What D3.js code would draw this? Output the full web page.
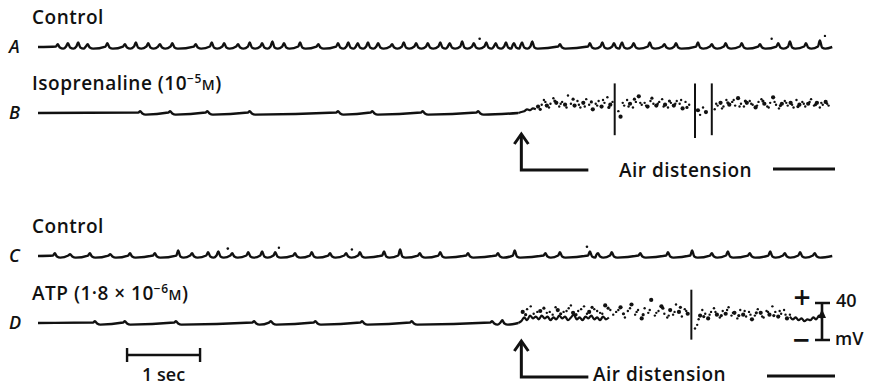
<!DOCTYPE html>
<html>
<head>
<meta charset="utf-8">
<script src="https://cdn.jsdelivr.net/npm/d3@7"></script>
<style>
  body { margin: 0; background: #fff; }
  svg text { font-family: "Open Sans", Lato, sans-serif; font-weight: 600; fill: #111; }
</style>
</head>
<body>
<figure id="trace" style="margin:0"></figure>
<script>
// trace letters and titles
const traceNames = ["A", "B", "C", "D"];
const traceTitles = ["Control", "Isoprenaline (10", "Control", "ATP (1·8 × 10"];
const titleExponents = [null, "−5", null, "−6"];

// time of air distension onset (s) and end of record (s)
const onset = 6.58;
const recordEnd = 10.88;

// A: control, spikes [time s, height mV]
const spikesA = [[0.27,3],[0.41,4],[0.55,5],[0.68,3],[0.95,4],[1.19,3],[1.34,5],[1.51,4],[1.67,3],[1.84,4],
  [2.16,3],[2.38,5],[2.55,4],[2.74,3],[2.90,5],[3.07,4],[3.21,6],[3.37,4],[3.59,5],[3.84,3],[4.11,4],[4.25,5],
  [4.38,4],[4.52,5],[4.66,4],[4.85,3],[5.01,5],[5.18,4],[5.34,4],[5.51,5],[5.64,4],[5.81,6],[5.97,4],[6.14,5],
  [6.27,4],[6.41,5],[6.52,4],[6.63,5],[6.77,6],[7.15,3],[7.56,4],[7.73,5],[7.89,4],[8.00,5],[8.16,4],[8.38,5],
  [8.58,3],[8.74,4],[9.04,5],[9.23,3],[9.42,4],[9.64,4],[9.89,3],[10.14,4],[10.30,6],[10.52,4],[10.71,7]];
const specksA = [[6.05,9],[10.05,9],[10.78,12]];

// B: isoprenaline, small bumps before onset, scattered points after
const bumpsB = [[1.40,2],[1.81,2],[2.32,2],[2.90,2],[4.11,2],[4.58,2],[5.27,2],[6.03,2]];
const riseB = [[6.58,0],[6.62,1],[6.66,2],[6.70,4],[6.74,3],[6.78,5],[6.82,4]];
const dotsB = [[6.85,7],[6.90,9],[6.93,14],[6.97,8],[7.02,10],[7.06,16],[7.10,11],[7.14,7],[7.18,12],[7.22,9],
  [7.26,19],[7.30,10],[7.35,8],[7.39,13],[7.43,6],[7.47,11],[7.51,15],[7.55,9],[7.60,4],[7.64,10],[7.68,13],
  [7.72,7],[7.76,11],[7.80,17],[7.84,9],[7.87,12],[7.95,2],[7.98,-4],[8.03,8],[8.07,14],[8.11,10],[8.15,6],
  [8.19,12],[8.23,18],[8.27,9],[8.31,11],[8.35,7],[8.39,13],[8.43,10],[8.47,8],[8.51,12],[8.55,15],[8.59,9],
  [8.63,6],[8.67,11],[8.71,8],[8.75,13],[8.79,10],[8.83,5],[8.87,12],[8.92,9],[9.04,3],[9.07,-2],[9.11,6],
  [9.15,1],[9.27,4],[9.31,8],[9.35,11],[9.39,7],[9.43,14],[9.47,9],[9.51,12],[9.55,8],[9.59,16],[9.63,10],
  [9.67,7],[9.71,11],[9.75,13],[9.79,9],[9.83,6],[9.87,12],[9.91,15],[9.95,10],[9.99,7],[10.03,11],[10.07,17],
  [10.11,9],[10.15,5],[10.19,10],[10.23,13],[10.27,8],[10.31,11],[10.35,6],[10.39,14],[10.43,9],[10.47,12],
  [10.51,7],[10.55,10],[10.59,15],[10.63,8],[10.67,11],[10.71,6],[10.75,9],[10.79,12],[10.83,8]];
const dotsB2 = [[6.88,4],[6.95,12],[7.00,6],[7.08,13],[7.16,10],[7.24,6],[7.33,15],[7.41,9],[7.49,7],[7.58,12],
  [7.66,8],[7.74,14],[7.82,6],[8.01,11],[8.09,7],[8.17,15],[8.25,11],[8.33,8],[8.41,16],[8.49,10],[8.57,7],
  [8.65,13],[8.73,10],[8.81,14],[8.89,6],[9.29,10],[9.37,5],[9.45,11],[9.53,14],[9.61,7],[9.69,13],[9.77,10],
  [9.85,8],[9.93,13],[10.01,6],[10.09,12],[10.17,8],[10.25,11],[10.33,9],[10.41,7],[10.49,10],[10.57,12],
  [10.65,9],[10.73,11],[10.81,10]];
// fast transients [time s, top mV, bottom mV]
const transientsB = [[7.90,32,-24],[9.00,32,-27],[9.23,32,-24]];

// C: control
const spikesC = [[0.23,3],[0.44,2],[0.71,3],[0.99,2],[1.26,3],[1.60,3],[1.92,6],[2.11,3],[2.33,4],[2.47,5],
  [2.66,3],[2.88,4],[3.07,5],[3.25,4],[3.52,3],[3.75,4],[4.00,3],[4.22,3],[4.41,4],[4.74,5],[4.96,7],[5.23,3],
  [5.51,4],[5.89,3],[6.30,3],[6.53,6],[6.95,3],[7.15,4],[7.56,5],[7.67,3],[7.86,4],[8.25,3],[8.63,4],[8.96,6],
  [9.23,3],[9.45,5],[9.75,3],[10.03,5],[10.23,3],[10.44,4],[10.64,3]];
const specksC = [[2.60,8],[3.30,9],[4.30,7],[7.52,10]];

// D: ATP
const bumpsD = [[0.78,2],[1.19,2],[1.89,2],[2.96,2],[3.19,2],[3.80,2],[4.44,2],[5.12,2],[6.22,2],[6.36,3]];
const waveD = [[6.58,0],[6.62,2],[6.66,6],[6.70,3],[6.74,8],[6.78,5],[6.82,7],[6.86,4],[6.90,8],[6.94,5],
  [6.98,7],[7.02,3],[7.06,6],[7.10,4],[7.14,8],[7.18,5],[7.22,7],[7.26,3],[7.30,6],[7.34,9],[7.38,4],[7.42,6],
  [7.46,3],[7.50,7],[7.54,5],[7.58,8],[7.62,4],[7.66,6],[7.70,3],[7.74,7],[7.78,4],[7.82,6]];
const waveD2 = [[10.30,7],[10.34,4],[10.38,6],[10.42,3],[10.46,5],[10.50,2],[10.54,4],[10.58,3],[10.62,6],
  [10.66,4],[10.70,8],[10.74,5]];
const dotsD = [[6.64,12],[6.70,15],[6.79,10],[6.88,13],[6.97,11],[7.05,9],[7.12,14],[7.20,12],[7.27,16],[7.33,11],
  [7.40,13],[7.48,18],[7.55,12],[7.62,15],[7.70,11],[7.77,19],[7.84,14],[7.92,12],[7.98,17],[8.04,6],[8.08,13],
  [8.13,20],[8.18,9],[8.22,14],[8.27,5],[8.31,16],[8.36,11],[8.40,25],[8.45,8],[8.50,13],[8.54,18],[8.58,10],
  [8.62,6],[8.66,14],[8.70,9],[8.74,20],[8.78,12],[8.82,7],[8.86,15],[8.90,10],[9.00,-6],[9.03,-2],[9.07,8],
  [9.10,14],[9.14,10],[9.18,5],[9.22,12],[9.26,16],[9.30,9],[9.34,6],[9.38,13],[9.42,10],[9.46,17],[9.50,8],
  [9.54,11],[9.58,5],[9.62,14],[9.66,9],[9.70,7],[9.74,12],[9.78,4],[9.82,8],[9.86,15],[9.90,11],[9.94,6],
  [9.98,13],[10.02,9],[10.06,18],[10.10,12],[10.14,7],[10.18,10],[10.22,14],[10.26,5],[10.30,9]];
const dotsD2 = [[6.68,9],[6.75,18],[6.84,12],[6.93,16],[7.01,12],[7.09,17],[7.16,10],[7.24,13],[7.30,19],[7.37,9],
  [7.44,15],[7.52,10],[7.59,17],[7.66,13],[7.73,10],[7.81,16],[7.88,9],[7.95,14],[8.02,10],[8.11,16],[8.20,12],
  [8.29,9],[8.38,14],[8.47,11],[8.56,16],[8.64,8],[8.72,12],[8.80,17],[8.88,13],[9.05,4],[9.12,7],[9.20,9],
  [9.28,12],[9.36,8],[9.44,14],[9.52,11],[9.60,8],[9.68,13],[9.76,9],[9.84,11],[9.92,7],[10.00,12],[10.08,8],
  [10.16,13],[10.24,9]];
const transientsD = [[8.95,36,-18]];

// calibration bars
const timeBar = [1.22, 2.22];   // 1 sec
const voltBar = [0, 40];        // 40 mV

const width = 875, height = 387;
const baselines = [47, 113, 256, 323];

const svg = d3.select("figure#trace")
  .append("svg")
  .attr("width", width)
  .attr("height", height);

const x = d3.scaleLinear().domain([0, 10]).range([38, 768]);
// one y scale per trace, 40 mV = 37 px
const ys = baselines.map(b => d3.scaleLinear().domain([0, 40]).range([b, b - 37]));

// spike train -> scalloped line points
function scallop(spikes, t0, t1) {
  const pts = [[t0, 0]];
  spikes.forEach(([t, a]) => {
    pts.push([t - 0.025, 0.5], [t, a], [t + 0.03, -0.6], [t + 0.075, -1.8]);
  });
  pts.push([t1, 0]);
  return pts;
}

function drawLine(pts, y, w) {
  const line = d3.line()
    .x(d => x(d[0]))
    .y(d => y(d[1]))
    .curve(d3.curveMonotoneX);
  svg.append("path")
    .attr("d", line(pts))
    .attr("fill", "none")
    .attr("stroke", "#111")
    .attr("stroke-width", w)
    .attr("stroke-linejoin", "round");
}

function drawDots(pts, y, big) {
  svg.append("g").selectAll("circle")
    .data(pts)
    .enter()
    .append("circle")
    .attr("cx", d => x(d[0]))
    .attr("cy", d => y(d[1]))
    .attr("r", (d, i) => i % 3 === 0 ? big : 1.2)
    .attr("fill", "#111");
}

function drawTransients(list, y) {
  svg.append("g").selectAll("line")
    .data(list)
    .enter()
    .append("line")
    .attr("x1", d => x(d[0])).attr("x2", d => x(d[0]))
    .attr("y1", d => y(d[1])).attr("y2", d => y(d[2]))
    .attr("stroke", "#111")
    .attr("stroke-width", 2);
}

// traces
drawLine(scallop(spikesA, 0, recordEnd), ys[0], 2.4);
drawDots(specksA, ys[0], 1.3);

drawLine(scallop(bumpsB, 0, onset), ys[1], 2.4);
drawLine(riseB, ys[1], 2.2);
drawDots(dotsB, ys[1], 2.1);
drawDots(dotsB2, ys[1], 1.6);
drawTransients(transientsB, ys[1]);

drawLine(scallop(spikesC, 0, recordEnd), ys[2], 2.4);
drawDots(specksC, ys[2], 1.3);

drawLine(scallop(bumpsD, 0, onset), ys[3], 2.4);
drawLine(waveD, ys[3], 2.2);
drawLine(waveD2, ys[3], 2.2);
drawDots(dotsD, ys[3], 2.1);
drawDots(dotsD2, ys[3], 1.6);
drawTransients(transientsD, ys[3]);

// letters and titles
traceNames.forEach((n, i) => {
  svg.append("text")
    .attr("x", 9)
    .attr("y", baselines[i] + 6)
    .attr("font-size", 18)
    .attr("font-weight", 700)
    .attr("font-style", "italic")
    .text(n);
  const t = svg.append("text")
    .attr("x", 32)
    .attr("y", baselines[i] - 23)
    .attr("font-size", 19)
    .attr("letter-spacing", 0.5)
    .text(traceTitles[i]);
  if (titleExponents[i]) {
    t.append("tspan").attr("dy", -7).attr("font-size", 12).text(titleExponents[i]);
    t.append("tspan").attr("dy", 7).attr("font-size", 14).text("M");
    t.append("tspan").text(")");
  }
});

// air distension markers
function distension(arrowBottom, textX, textY, lineX) {
  const x0 = x(onset) + 3;
  const g = svg.append("g")
    .attr("fill", "none")
    .attr("stroke", "#111")
    .attr("stroke-width", 3);
  g.append("path").attr("d", `M${x0},${arrowBottom - 36} V${arrowBottom} H${x0 + 67}`);
  g.append("path").attr("d", `M${x0 - 7},${arrowBottom - 26} L${x0},${arrowBottom - 36} L${x0 + 7},${arrowBottom - 26}`);
  g.append("line").attr("x1", lineX).attr("x2", 835).attr("y1", arrowBottom - 1).attr("y2", arrowBottom - 1);
  svg.append("text")
    .attr("x", textX)
    .attr("y", textY)
    .attr("font-size", 19)
    .attr("letter-spacing", 0.5)
    .text("Air distension");
}
distension(170, 619, 177, 773);
distension(377, 593, 381, 767);

// time calibration
svg.append("path")
  .attr("d", `M${x(timeBar[0])},348 V362 M${x(timeBar[0])},355 H${x(timeBar[1])} M${x(timeBar[1])},348 V362`)
  .attr("stroke", "#111")
  .attr("stroke-width", 2.4)
  .attr("fill", "none");
svg.append("text")
  .attr("x", (x(timeBar[0]) + x(timeBar[1])) / 2)
  .attr("y", 381)
  .attr("text-anchor", "middle")
  .attr("font-size", 18)
  .text("1 sec");

// voltage calibration
const yv = d3.scaleLinear().domain(voltBar).range([340, 303]);
svg.append("path")
  .attr("d", `M815,${yv(40)} H830 M822,${yv(40)} V${yv(0)} M815,${yv(0)} H830`)
  .attr("stroke", "#111")
  .attr("stroke-width", 2.6)
  .attr("fill", "none");
svg.append("path")
  .attr("d", "M818,318 L822,309 L826,318 Z")
  .attr("fill", "#111");
svg.append("text").attr("x", 836).attr("y", 307).attr("font-size", 18).attr("font-weight", 700).text("40");
svg.append("text").attr("x", 835).attr("y", 345).attr("font-size", 18).text("mV");
svg.append("text").attr("x", 802).attr("y", 308).attr("text-anchor", "middle").attr("font-size", 30).attr("font-weight", 700).text("+");
svg.append("text").attr("x", 801).attr("y", 351).attr("text-anchor", "middle").attr("font-size", 30).attr("font-weight", 700).text("−");
</script>
</body>
</html>
